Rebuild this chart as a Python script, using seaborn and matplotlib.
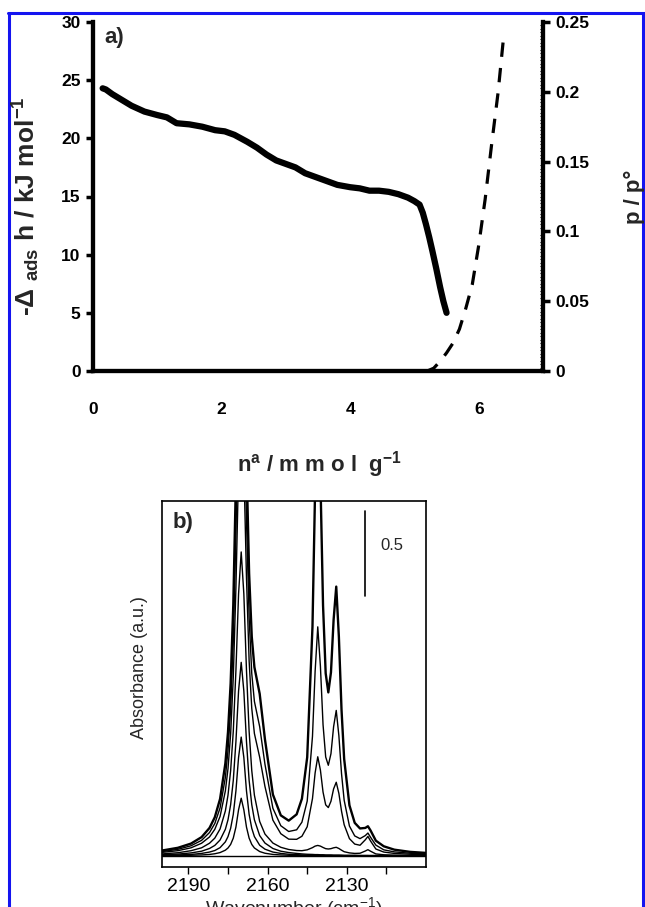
import numpy as np
import matplotlib
matplotlib.use("Agg")
import matplotlib.pyplot as plt
import seaborn as sns
from matplotlib.lines import Line2D
from matplotlib.ticker import MultipleLocator

sns.set_theme(style="white")
plt.rcParams['font.family'] = ['Liberation Sans', 'DejaVu Sans']
plt.rcParams['mathtext.fontset'] = 'custom'
plt.rcParams['mathtext.rm'] = 'Liberation Sans'
plt.rcParams['mathtext.it'] = 'Liberation Sans'
plt.rcParams['mathtext.bf'] = 'Liberation Sans:bold'

# ---------------- panel a data ----------------
n_heat = [0.15, 0.2, 0.3, 0.45, 0.6, 0.8, 1.0, 1.15, 1.3, 1.5, 1.7, 1.9, 2.05, 2.2, 2.4, 2.55, 2.7, 2.85, 3.0, 3.15,
          3.3, 3.45, 3.6, 3.8, 4.0, 4.15, 4.3, 4.45, 4.6, 4.75, 4.9, 5.0, 5.08, 5.13, 5.18, 5.23, 5.28, 5.34, 5.4, 5.45, 5.5]
heat = [24.3, 24.2, 23.8, 23.3, 22.8, 22.3, 22.0, 21.8, 21.3, 21.2, 21.0, 20.7, 20.6, 20.3, 19.7, 19.2, 18.6, 18.1, 17.8, 17.5,
        17.0, 16.7, 16.4, 16.0, 15.8, 15.7, 15.5, 15.5, 15.4, 15.2, 14.9, 14.6, 14.3, 13.6, 12.6, 11.5, 10.3, 8.8, 7.2, 6.0, 5.0]
n_iso = [0.0, 5.2, 5.3, 5.4, 5.5, 5.6, 5.7, 5.8, 5.9, 6.0, 6.1, 6.2, 6.3, 6.38]
p_iso = [0.0, 0.0, 0.002, 0.007, 0.013, 0.02, 0.03, 0.045, 0.062, 0.09, 0.123, 0.162, 0.199, 0.236]
heat_ticks = [0, 5, 10, 15, 20, 25, 30]
p_ticks = [0, 0.05, 0.1, 0.15, 0.2, 0.25]
p_ticklabels = ['0', '0.05', '0.1', '0.15', '0.2', '0.25']
n_ticks = [0, 2, 4, 6]

# ---------------- panel b data (IR spectra, absorbance) ----------------
wn = [2200, 2194, 2189, 2185, 2182, 2180, 2178, 2176, 2175, 2174, 2173, 2172, 2171, 2170, 2169, 2168, 2167, 2166, 2165,
      2163, 2161, 2158, 2155, 2152, 2149, 2147, 2145, 2143, 2142, 2141, 2140, 2139, 2138, 2137, 2136, 2135, 2134, 2133,
      2132, 2131, 2129, 2127, 2125, 2123, 2122, 2121, 2119, 2116, 2112, 2106, 2100]
spec_0 = [0.0] * 51
spec_1 = [0.002, 0.002, 0.004, 0.006, 0.009, 0.013, 0.02, 0.034, 0.047, 0.068, 0.105, 0.17, 0.272, 0.34, 0.272, 0.17,
          0.105, 0.068, 0.047, 0.026, 0.016, 0.009, 0.006, 0.004, 0.003, 0.003, 0.002, 0.002, 0.002, 0.002, 0.002, 0.001,
          0.001, 0.001, 0.001, 0.001, 0.001, 0.001, 0.001, 0.001, 0.001, 0.001, 0.001, 0.001, 0.001, 0.001, 0.0, 0.0,
          0.0, 0.0, 0.0]
spec_2 = [0.004, 0.006, 0.009, 0.015, 0.023, 0.032, 0.049, 0.083, 0.114, 0.163, 0.245, 0.383, 0.58, 0.70, 0.58, 0.383,
          0.245, 0.163, 0.114, 0.063, 0.04, 0.023, 0.015, 0.01, 0.008, 0.006, 0.005, 0.005, 0.004, 0.004, 0.004, 0.004,
          0.003, 0.003, 0.003, 0.003, 0.003, 0.003, 0.002, 0.002, 0.002, 0.002, 0.002, 0.002, 0.002, 0.001, 0.001, 0.001,
          0.001, 0.001, 0.001]
spec_3 = [0.007, 0.011, 0.018, 0.028, 0.044, 0.062, 0.094, 0.157, 0.213, 0.302, 0.445, 0.673, 0.971, 1.14, 0.971, 0.673,
          0.445, 0.302, 0.213, 0.12, 0.076, 0.044, 0.028, 0.02, 0.015, 0.012, 0.01, 0.009, 0.008, 0.008, 0.007, 0.007,
          0.006, 0.006, 0.006, 0.005, 0.005, 0.005, 0.005, 0.004, 0.004, 0.004, 0.003, 0.003, 0.003, 0.003, 0.003, 0.002,
          0.002, 0.002, 0.001]
spec_4 = [0.012, 0.019, 0.031, 0.048, 0.075, 0.105, 0.159, 0.265, 0.358, 0.503, 0.734, 1.092, 1.543, 1.79, 1.543, 1.092,
          0.734, 0.503, 0.358, 0.203, 0.129, 0.076, 0.051, 0.038, 0.032, 0.031, 0.036, 0.049, 0.058, 0.062, 0.058, 0.05,
          0.043, 0.041, 0.043, 0.048, 0.051, 0.044, 0.034, 0.025, 0.018, 0.015, 0.016, 0.029, 0.037, 0.028, 0.012, 0.007,
          0.005, 0.003, 0.002]
spec_5 = [0.021, 0.031, 0.048, 0.075, 0.112, 0.157, 0.233, 0.383, 0.514, 0.719, 1.052, 1.578, 2.268, 2.665, 2.296, 1.638,
          1.15, 0.869, 0.721, 0.581, 0.409, 0.211, 0.131, 0.099, 0.098, 0.116, 0.172, 0.338, 0.489, 0.584, 0.506, 0.376,
          0.301, 0.285, 0.322, 0.395, 0.434, 0.368, 0.264, 0.184, 0.102, 0.07, 0.063, 0.095, 0.115, 0.088, 0.041, 0.023,
          0.015, 0.01, 0.008]
spec_6 = [0.026, 0.039, 0.06, 0.092, 0.138, 0.191, 0.283, 0.462, 0.62, 0.866, 1.263, 1.892, 2.717, 3.193, 2.757, 1.978,
          1.403, 1.074, 0.91, 0.761, 0.54, 0.281, 0.178, 0.144, 0.154, 0.199, 0.323, 0.704, 1.087, 1.349, 1.118, 0.773,
          0.583, 0.534, 0.602, 0.761, 0.857, 0.708, 0.485, 0.328, 0.176, 0.118, 0.102, 0.12, 0.135, 0.11, 0.064, 0.036,
          0.024, 0.016, 0.012]
spec_7 = [0.032, 0.048, 0.073, 0.111, 0.165, 0.228, 0.336, 0.545, 0.729, 1.016, 1.478, 2.211, 3.171, 3.726, 3.224, 2.324,
          1.663, 1.291, 1.112, 0.955, 0.686, 0.362, 0.239, 0.208, 0.245, 0.337, 0.581, 1.35, 2.167, 2.753, 2.224, 1.475,
          1.075, 0.963, 1.081, 1.39, 1.586, 1.29, 0.861, 0.571, 0.298, 0.195, 0.162, 0.165, 0.175, 0.15, 0.09, 0.057,
          0.037, 0.024, 0.018]
spectra = [spec_0, spec_1, spec_2, spec_3, spec_4, spec_5, spec_6, spec_7]
wn_ticks = [2190, 2160, 2130]
wn_minor = [2175, 2145, 2115]
scale_bar = 0.5

W, H = 645, 907
fig = plt.figure(figsize=(W / 100, H / 100), dpi=100)

# ---------------- panel a ----------------
ax = fig.add_axes([93 / W, 1 - 371 / H, 450 / W, 349 / H])
sns.lineplot(x=n_heat, y=heat, ax=ax, color='black', lw=4.5, solid_capstyle='round', sort=False)
ax.set_xlim(0, 7)
ax.set_ylim(0, 30)
ax.set_xticks(n_ticks)
ax.set_yticks(heat_ticks)
ax2 = ax.twinx()
sns.lineplot(x=n_iso, y=p_iso, ax=ax2, color='black', lw=2.3, sort=False)
ax2.lines[0].set_dashes([4.5, 3.5])
ax2.set_xlim(0, 7)
ax2.set_ylim(0, 0.25)
ax2.set_yticks(p_ticks)
ax2.set_yticklabels(p_ticklabels)
for a in (ax, ax2):
    a.spines['top'].set_visible(False)
    for s in ('left', 'right', 'bottom'):
        a.spines[s].set_linewidth(3)
        a.spines[s].set_color('black')
    a.tick_params(direction='out', length=5, width=2.5, labelsize=12.5, colors='black', pad=4)
    a.grid(False)
    a.set_xlabel('')
    a.set_ylabel('')
    for t in a.get_xticklabels() + a.get_yticklabels():
        t.set_fontweight('bold')
ax2.yaxis.set_minor_locator(MultipleLocator(0.0025))
ax2.tick_params(axis='y', which='minor', direction='in', length=2, width=0.7, colors='black')
ax.tick_params(axis='x', pad=17)
ax.patch.set_alpha(0)

fig.text(26 / W, 1 - 206 / H, r"-Δ $_{\mathbf{ads}}$ h / kJ mol$^{\mathbf{-1}}$", rotation=90,
         ha='center', va='center', fontsize=19, fontweight='bold')
fig.text(634 / W, 1 - 197 / H, "p / p°", rotation=90, ha='center', va='center', fontsize=16, fontweight='bold')
fig.text(104 / W, 1 - 37 / H, "a)", ha='left', va='center', fontsize=16, fontweight='bold')
fig.text(320 / W, 1 - 465 / H, r"n$^{\mathbf{a}}$ / m m o l  g$^{\mathbf{-1}}$", ha='center', va='center',
         fontsize=16, fontweight='bold')

# ---------------- panel b ----------------
axb = fig.add_axes([162 / W, 1 - 867 / H, 264 / W, 366 / H])
for i, spec in enumerate(spectra):
    sns.lineplot(x=wn, y=spec, ax=axb, color='black', lw=1.7 if i == len(spectra) - 1 else 1.0, sort=False)
axb.set_xlim(2200, 2100)
axb.set_ylim(-0.065, 2.09)
axb.set_xticks(wn_ticks)
axb.set_xticks(wn_minor, minor=True)
axb.set_yticks([])
axb.tick_params(axis='x', which='both', direction='out', length=5, width=1.0, bottom=True, labelsize=14,
                colors='black', pad=3)
for s in axb.spines.values():
    s.set_linewidth(1.2)
    s.set_color('black')
axb.set_xlabel("Wavenumber (cm$^{-1}$)", fontsize=14, labelpad=0)
axb.set_ylabel("Absorbance (a.u.)", fontsize=13)
axb.yaxis.set_label_coords(-0.053, 0.546)
axb.plot([2123.2, 2123.2], [2.03 - scale_bar, 2.03], color='black', lw=1.2)
axb.text(2112.8, 1.83, f"{scale_bar}", ha='center', va='center', fontsize=12)
axb.text(0.08, 0.94, "b)", transform=axb.transAxes, ha='center', va='center', fontsize=16, fontweight='bold')

# ---------------- blue frame ----------------
blue = '#1414f0'
fig.add_artist(Line2D([8 / W, 1], [1 - 12.5 / H] * 2, color=blue, lw=2.2, transform=fig.transFigure))
fig.add_artist(Line2D([8.5 / W] * 2, [0, 1 - 12.5 / H], color=blue, lw=2.2, transform=fig.transFigure))
fig.add_artist(Line2D([642.5 / W] * 2, [0, 1 - 12.5 / H], color=blue, lw=2.2, transform=fig.transFigure))

fig.savefig('out.png', dpi=100)
